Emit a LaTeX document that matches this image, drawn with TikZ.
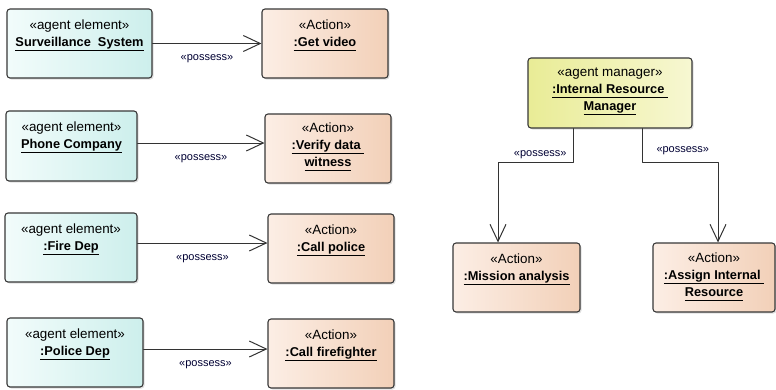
\documentclass[tikz,border=0pt]{standalone}
\usepackage{fontspec}
\setmainfont{Liberation Sans}
\usetikzlibrary{arrows.meta,positioning,shadows}
\definecolor{agentL}{HTML}{F2FCFB}
\definecolor{agentR}{HTML}{CDEFEC}
\definecolor{actL}{HTML}{FCEEE5}
\definecolor{actR}{HTML}{F2D0B8}
\definecolor{mgrL}{HTML}{E9EC96}
\definecolor{mgrR}{HTML}{F7F7D2}
% underlined bold name line
\newcommand\nm[1]{\setbox0\hbox{\fontsize{12.8}{17}\selectfont\bfseries #1\rule[-3pt]{0pt}{1pt}}\leavevmode\vtop{\box0\kern0.6pt\hrule height 1pt}}

\begin{document}
\begin{tikzpicture}[line cap=round,line join=round,>={Straight Barb[length=17pt,width=16pt]},x=1pt,y=-1pt,
  box/.style={draw=black!78,line width=1.1pt,rounded corners=3pt,minimum height=69pt,
    drop shadow={shadow xshift=1.5pt,shadow yshift=-1.5pt,opacity=0.25}},
  agent/.style={box,left color=agentL,right color=agentR},
  act/.style={box,left color=actL,right color=actR},
  mgr/.style={box,left color=mgrL,right color=mgrR},
  txt/.style={inner sep=0pt,align=center,font=\fontsize{13.4}{17}\selectfont},
  lbl/.style={inner sep=0pt,font=\fontsize{11}{13}\selectfont,text=black!80!blue},
  conn/.style={->,draw=black!80,line width=1pt}]
\useasboundingbox (0,0) rectangle (776,389);

% agent elements and their actions
\node[agent,minimum width=145pt] (ss) at (79.5,43.5) {};
\node[txt,below=11pt of ss.north] (ssT) {«agent element»\\\nm{Surveillance\ \ System}};
\node[act,minimum width=126pt] (gv) at (325,43.5) {};
\node[txt,below=11pt of gv.north] (gvT) {«Action»\\\nm{:Get video}};

\node[agent,minimum width=131pt,minimum height=70pt] (pc) at (71.5,146) {};
\node[txt,below=11pt of pc.north] (pcT) {«agent element»\\\nm{Phone Company}};
\node[act,minimum width=126pt] (vd) at (328,148.5) {};
\node[txt,below=9pt of vd.north] (vdT) {«Action»\\\nm{:Verify data\ }\\\nm{witness}};

\node[agent,minimum width=132pt] (fd) at (71,247.5) {};
\node[txt,below=11pt of fd.north] (fdT) {«agent element»\\\nm{:Fire Dep}};
\node[act,minimum width=126pt] (cp) at (331,248.5) {};
\node[txt,below=11pt of cp.north] (cpT) {«Action»\\\nm{:Call police}};

\node[agent,minimum width=136pt] (pd) at (75,352.5) {};
\node[txt,below=11pt of pd.north] (pdT) {«agent element»\\\nm{:Police Dep}};
\node[act,minimum width=126pt] (cf) at (331,353.5) {};
\node[txt,below=11pt of cf.north] (cfT) {«Action»\\\nm{:Call firefighter}};

\draw[conn] (ss.east) -- (ss.east -| gv.west) node[lbl,midway,below=11pt] (p1) {«possess»};
\draw[conn] ([yshift=3pt]pc.east) -- ([yshift=3pt]pc.east -| vd.west) node[lbl,midway,below=11pt] (p2) {«possess»};
\draw[conn] ([yshift=4.5pt]fd.east) -- ([yshift=4.5pt]fd.east -| cp.west) node[lbl,midway,below=11pt] (p3) {«possess»};
\draw[conn] ([yshift=3.5pt]pd.east) -- ([yshift=3.5pt]pd.east -| cf.west) node[lbl,midway,below=11pt] (p4) {«possess»};

% manager and its actions
\node[mgr,minimum width=164pt,minimum height=70pt] (irm) at (610,93) {};
\node[txt,below=10pt of irm.north] (irmT) {«agent manager»\\\nm{:Internal Resource\ }\\\nm{Manager}};
\node[act,minimum width=127pt] (ma) at (516.5,277.5) {};
\node[txt,below=11pt of ma.north] (maT) {«Action»\\\nm{:Mission analysis}};
\node[act,minimum width=122pt] (air) at (714,277.5) {};
\node[txt,below=10pt of air.north] (airT) {«Action»\\\nm{:Assign Internal\ }\\\nm{Resource}};

\draw[conn] ([xshift=-37pt]irm.south) -- ++(0,34) node[lbl,anchor=south east,xshift=-6pt,yshift=3pt] (p5) {«possess»} -| ([xshift=-18.5pt]ma.north);
\draw[conn] ([xshift=32pt]irm.south) -- ++(0,34) node[lbl,anchor=south west,xshift=14pt,yshift=7pt] (p6) {«possess»} -| ([xshift=4pt]air.north);
\end{tikzpicture}
\end{document}
